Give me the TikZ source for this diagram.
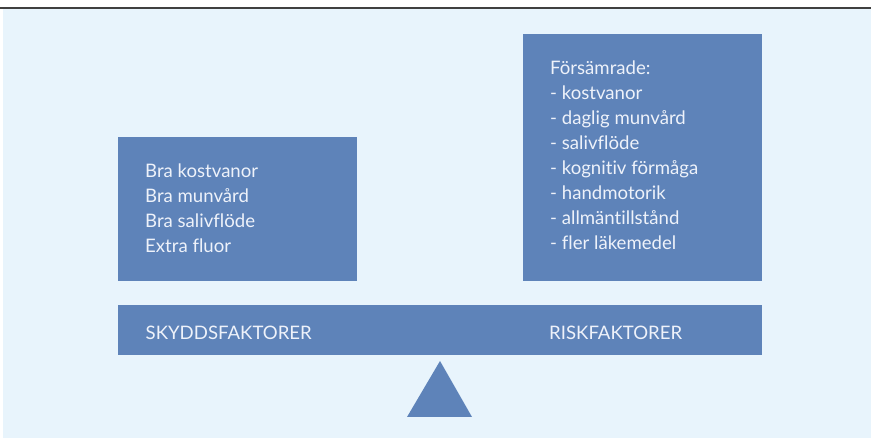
\documentclass[tikz,border=0pt]{standalone}
\usepackage{fontspec}
\setmainfont{Lato}[Ligatures=NoCommon]
\definecolor{bgblue}{HTML}{E8F4FC}
\definecolor{boxblue}{HTML}{5E83B9}
\definecolor{txtwhite}{HTML}{EEF2FA}
\definecolor{rulegray}{HTML}{404040}

\begin{document}
\begin{tikzpicture}[x=1pt,y=-1pt,
   box/.style={rectangle,fill=boxblue,inner sep=0pt,anchor=north west},
   boxtext/.style={text=txtwhite,inner sep=0pt,anchor=base west,
    font=\fontsize{18.6}{22}\selectfont}
    ]
  \useasboundingbox (0,0) rectangle (871,438);

  % -- background and top rule
  \fill[bgblue] (3,9) rectangle (871,438);
  \draw[rulegray,line width=1.5pt] (0,8) -- (871,8);

  % -- boxes
  \node[box,minimum width=239pt,minimum height=144pt] at (118,137) (skydd) {};
  \node[box,minimum width=239pt,minimum height=247pt] at (523,34) (risk) {};
  \node[box,minimum width=644pt,minimum height=50pt] at (118,305) (bar) {};

  % -- fulcrum
  \fill[boxblue] (440,361) -- (472,417) -- (407,417) -- cycle;

  % -- left text
  \foreach \t [count=\i] in {Bra kostvanor,Bra munvård,Bra salivflöde,Extra fluor}
    \node[boxtext] at (145,153+25*\i) (skydd\i) {\t};

  % -- right text
  \foreach \t [count=\i] in {Försämrade:,- kostvanor,- daglig munvård,- salivflöde,
      - kognitiv förmåga,- handmotorik,- allmäntillstånd,- fler läkemedel}
    \node[boxtext] at (550,50+25*\i) (risk\i) {\t};

  % -- bar labels
  \node[boxtext] at (145.5,340) (skyddlabel) {SKYDDSFAKTORER};
  \node[boxtext] at (549,340) (risklabel) {RISKFAKTORER};

\end{tikzpicture}
\end{document}
